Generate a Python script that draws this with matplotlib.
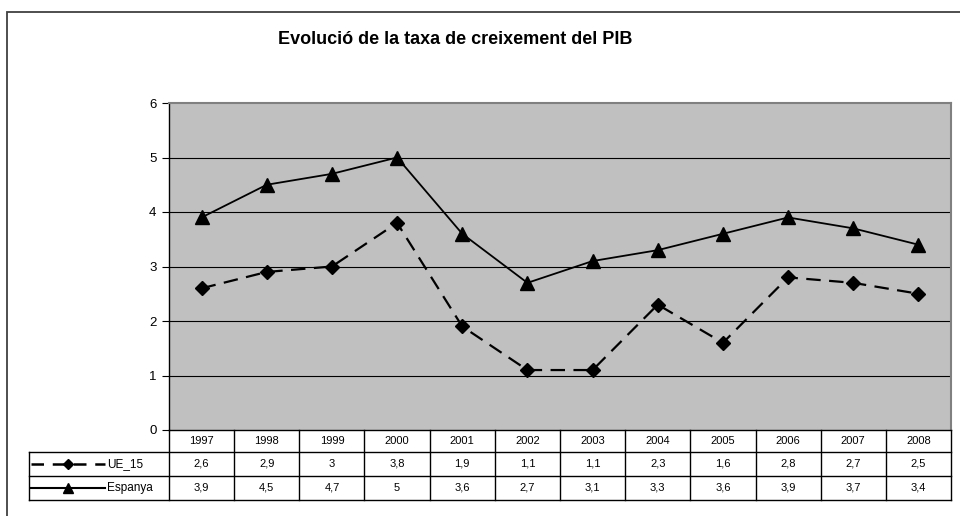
import numpy as np
import matplotlib.pyplot as plt
from matplotlib.patches import Rectangle
from matplotlib.lines import Line2D

plt.rcParams['font.family'] = ['Liberation Sans', 'DejaVu Sans']

# --- DADES ---
YEARS = ['1997', '1998', '1999', '2000', '2001', '2002',
         '2003', '2004', '2005', '2006', '2007', '2008']
UE_15 = [2.6, 2.9, 3.0, 3.8, 1.9, 1.1, 1.1, 2.3, 1.6, 2.8, 2.7, 2.5]
ESPANYA = [3.9, 4.5, 4.7, 5.0, 3.6, 2.7, 3.1, 3.3, 3.6, 3.9, 3.7, 3.4]
TITLE = "Evolució de la taxa de creixement del PIB"

W, H = 960, 516
L, R, T, B = 169, 951, 103, 430      # plot area in pixels


def fmt(v):
    return f"{v:g}".replace('.', ',')


fig = plt.figure(figsize=(W / 100, H / 100), dpi=100)
ax = fig.add_axes([L / W, 1 - B / H, (R - L) / W, (B - T) / H])

# outer frame (continues past the image edges)
fig.patches.append(Rectangle((7 / W, -0.1), 1.2, 1 - 12 / H + 0.1,
                             transform=fig.transFigure, fill=False,
                             edgecolor='#404040', linewidth=1.3))

fig.text(278 / W, 1 - 40 / H, TITLE, ha='left', va='center',
         fontsize=13, fontweight='bold')

x = np.arange(len(YEARS))
ax.set_facecolor('#C0C0C0')
for yv in range(1, 6):
    ax.axhline(yv, color='black', linewidth=0.8, zorder=1)

ax.plot(x, UE_15, color='black', linewidth=1.6, dashes=(6.5, 3.8),
        marker='D', markersize=7, zorder=3)
ax.plot(x, ESPANYA, color='black', linewidth=1.3,
        marker='^', markersize=10, zorder=3)

ax.set_xlim(-0.5, len(YEARS) - 0.5)
ax.set_ylim(0, 6)
ax.set_yticks(range(0, 7))
ax.set_xticks([])
ax.tick_params(axis='y', labelsize=9.5, length=5, width=0.8, pad=4)
ax.spines['top'].set_color('#808080')
ax.spines['right'].set_color('#808080')
ax.spines['top'].set_linewidth(1.5)
ax.spines['right'].set_linewidth(1.5)
ax.spines['left'].set_linewidth(1.0)
ax.spines['bottom'].set_linewidth(1.0)

# ── taula de dades ──
ph = B - T
rows_px = [430, 452, 476, 500]
ry = [(B - p) / ph for p in rows_px]
leg_left = (29 - L) / (R - L)
xt = ax.get_xaxis_transform()
kw = dict(color='black', linewidth=1.0, clip_on=False)

for i in range(len(YEARS) + 1):
    ax.plot([i - 0.5, i - 0.5], [ry[0], ry[3]], transform=xt, **kw)
for yy in ry[1:]:
    ax.plot([leg_left, 1], [yy, yy], transform=ax.transAxes, **kw)
ax.plot([leg_left, leg_left], [ry[1], ry[3]], transform=ax.transAxes, **kw)

for i, yr in enumerate(YEARS):
    ax.text(i, (ry[0] + ry[1]) / 2, yr, transform=xt, ha='center',
            va='center', fontsize=8)
    ax.text(i, (ry[1] + ry[2]) / 2, fmt(UE_15[i]), transform=xt,
            ha='center', va='center', fontsize=8)
    ax.text(i, (ry[2] + ry[3]) / 2, fmt(ESPANYA[i]), transform=xt,
            ha='center', va='center', fontsize=8)

# claus de llegenda dins la taula
kx0 = (31 - L) / (R - L)
kx1 = (105 - L) / (R - L)
kxm = (68 - L) / (R - L)
tx = (107 - L) / (R - L)
y_ue = (ry[1] + ry[2]) / 2
y_es = (ry[2] + ry[3]) / 2
ax.add_line(Line2D([kx0, kx1], [y_ue, y_ue], transform=ax.transAxes,
                   color='black', linewidth=1.8, dashes=(5, 3.5),
                   clip_on=False))
ax.add_line(Line2D([kxm], [y_ue], transform=ax.transAxes, color='black',
                   marker='D', markersize=5.5, clip_on=False))
ax.add_line(Line2D([kx0, kx1], [y_es, y_es], transform=ax.transAxes,
                   color='black', linewidth=1.5, clip_on=False))
ax.add_line(Line2D([kxm], [y_es], transform=ax.transAxes, color='black',
                   marker='^', markersize=7, clip_on=False))
ax.text(tx, y_ue, 'UE_15', transform=ax.transAxes, ha='left',
        va='center', fontsize=8.5)
ax.text(tx, y_es, 'Espanya', transform=ax.transAxes, ha='left',
        va='center', fontsize=8.5)

plt.savefig("out.png", dpi=100)
